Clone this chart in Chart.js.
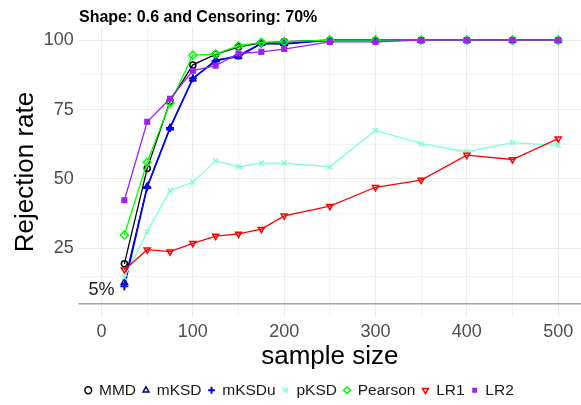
<!DOCTYPE html>
<html>
<head>
<meta charset="utf-8">
<script src="https://cdn.jsdelivr.net/npm/chart.js@4/dist/chart.umd.min.js"></script>
<style>
  html, body { margin: 0; padding: 0; background: #fff; }
  #wrap { width: 581px; height: 405px; }
</style>
</head>
<body>
<div id="wrap"><canvas id="chart"></canvas></div>
<script>
const sampleSize = [25, 50, 75, 100, 125, 150, 175, 200, 250, 300, 350, 400, 450, 500]
const mmd = [19.4, 53.8, 78.0, 91.1, 94.9, 97.6, 99.0, 99.5, 100, 100, 100, 100, 100, 100]
const mksd = [12.7, 47.3, 68.4, 86.0, 92.9, 94.0, 98.8, 98.8, 100, 100, 100, 100, 100, 100]
const mksdu = [11.3, 47.0, 68.4, 86.3, 92.5, 94.5, 98.8, 98.6, 100, 100, 100, 100, 100, 100]
const pksd = [14.5, 31.0, 45.8, 48.8, 56.5, 54.4, 55.7, 55.7, 54.4, 67.5, 62.7, 59.8, 63.1, 62.1]
const pearson = [29.8, 56.0, 77.4, 94.6, 95.0, 98.0, 99.2, 99.4, 100, 100, 100, 100, 100, 100]
const lr1 = [17.3, 24.5, 23.8, 26.8, 29.4, 30.2, 31.9, 36.7, 40.2, 47.0, 49.6, 58.6, 57.0, 64.5]
const lr2 = [42.3, 70.6, 78.9, 89.0, 90.8, 95.2, 95.8, 96.8, 99.4, 99.4, 100, 100, 100, 100]

const xTicks = [0, 50, 100, 150, 200, 250, 300, 350, 400, 450, 500]
const yTicks = [15, 25, 37.5, 50, 62.5, 75, 87.5, 100]
const yLabelled = [25, 50, 75, 100]
const refLevel = 5
const refLabel = "5%"
const title = "Shape: 0.6 and Censoring: 70%"

const FONT = "'Liberation Sans', Arial, sans-serif"

function series(label, values, color, style, extra) {
  return {
    label: label,
    data: values.map((v, i) => ({ x: sampleSize[i], y: v })),
    borderColor: color,
    backgroundColor: color,
    borderWidth: 1.3,
    pointStyle: style,
    pointRadius: 3.5,
    pointBorderWidth: 1.5,
    pointBorderColor: color,
    pointBackgroundColor: "rgba(0,0,0,0)",
    tension: 0,
    ...extra,
  }
}

// order: later series are drawn on top, like the original
const datasets = [
  series("MMD", mmd, "#000000", "circle", { pointRadius: 3, order: 6 }),
  series("mKSD", mksd, "#000080", "triangle", { order: 5 }),
  series("mKSDu", mksdu, "#0000FF", "cross", { pointRadius: 4, pointBorderWidth: 2, borderWidth: 1.6, order: 4 }),
  series("pKSD", pksd, "#7FFFD4", "crossRot", { order: 3 }),
  series("Pearson", pearson, "#00FF00", "rectRot", { pointRadius: 4, order: 2 }),
  series("LR1", lr1, "#FF0000", "triangle", { pointRotation: 180, order: 1 }),
  series("LR2", lr2, "#A020F0", "rect", { pointRadius: 4.3, pointBorderWidth: 0, pointBackgroundColor: "#A020F0", order: 0 }),
]

const extras = {
  id: "extras",
  afterLayout(chart) {
    // nudge legend to where it sits in the original
    const lg = chart.legend
    const dx = 9, dy = 3
    lg.left += dx; lg.right += dx
    lg.top += dy; lg.bottom += dy
  },
  beforeDatasetsDraw(chart) {
    const { ctx, chartArea, scales } = chart
    const y = scales.y.getPixelForValue(refLevel)
    ctx.save()
    ctx.strokeStyle = "#A6A6A6"
    ctx.lineWidth = 1.4
    ctx.beginPath()
    ctx.moveTo(chartArea.left, y)
    ctx.lineTo(chartArea.right, y)
    ctx.stroke()
    ctx.fillStyle = "#1a1a1a"
    ctx.font = "18px " + FONT
    ctx.textAlign = "center"
    ctx.textBaseline = "middle"
    ctx.fillText(refLabel, scales.x.getPixelForValue(0), scales.y.getPixelForValue(10))
    ctx.restore()
  },
  afterDraw(chart) {
    const { ctx } = chart
    ctx.save()
    ctx.fillStyle = "#000"
    ctx.font = "bold 16px " + FONT
    ctx.textAlign = "left"
    ctx.textBaseline = "alphabetic"
    ctx.fillText(title, 79, 21.5)
    ctx.restore()
  },
}

new Chart(document.getElementById("chart"), {
  type: "line",
  data: { datasets: datasets },
  plugins: [extras],
  options: {
    responsive: true,
    maintainAspectRatio: false,
    animation: false,
    layout: { autoPadding: false, padding: { top: 27, left: 0, right: 0, bottom: 0 } },
    plugins: {
      title: { display: false },
      tooltip: { enabled: false },
      legend: {
        position: "bottom",
        labels: {
          usePointStyle: true,
          boxWidth: 6,
          boxHeight: 4.8,
          padding: 7,
          color: "#1a1a1a",
          font: { family: FONT, size: 15.5 },
          sort: (a, b) => a.datasetIndex - b.datasetIndex,
        },
      },
    },
    scales: {
      x: {
        type: "linear",
        min: -25,
        max: 525,
        afterBuildTicks: (scale) => { scale.ticks = xTicks.map(v => ({ value: v })) },
        afterFit: (scale) => {
          scale.height = 55.5
          scale.paddingLeft = 0
          scale.paddingRight = 0
        },
        border: { display: false },
        grid: {
          drawTicks: false,
          color: "#EBEBEB",
          lineWidth: (ctx) => (ctx.tick && ctx.tick.value % 100 === 0 ? 1.1 : 0.6),
        },
        ticks: {
          padding: 4,
          maxRotation: 0,
          autoSkip: false,
          color: "#4D4D4D",
          font: { family: FONT, size: 18 },
          callback: (v) => (v % 100 === 0 ? String(v) : ""),
        },
        title: {
          display: true,
          text: "sample size",
          color: "#000",
          font: { family: FONT, size: 26 },
          padding: { top: 0, bottom: 0 },
        },
      },
      y: {
        min: 0.25,
        max: 104.75,
        afterBuildTicks: (scale) => { scale.ticks = yTicks.map(v => ({ value: v })) },
        afterFit: (scale) => {
          scale.width = 78.7
          scale.paddingTop = 0
          scale.paddingBottom = 0
        },
        border: { display: false },
        grid: {
          drawTicks: false,
          color: "#EBEBEB",
          lineWidth: (ctx) => (ctx.tick && yLabelled.includes(ctx.tick.value) ? 1.1 : 0.6),
        },
        ticks: {
          padding: 5,
          autoSkip: false,
          color: "#4D4D4D",
          font: { family: FONT, size: 18 },
          callback: (v) => (yLabelled.includes(v) ? String(v) : ""),
        },
        title: {
          display: true,
          text: "Rejection rate",
          color: "#000",
          font: { family: FONT, size: 26 },
          padding: { top: 10, bottom: 0 },
        },
      },
    },
  },
})
</script>
</body>
</html>
